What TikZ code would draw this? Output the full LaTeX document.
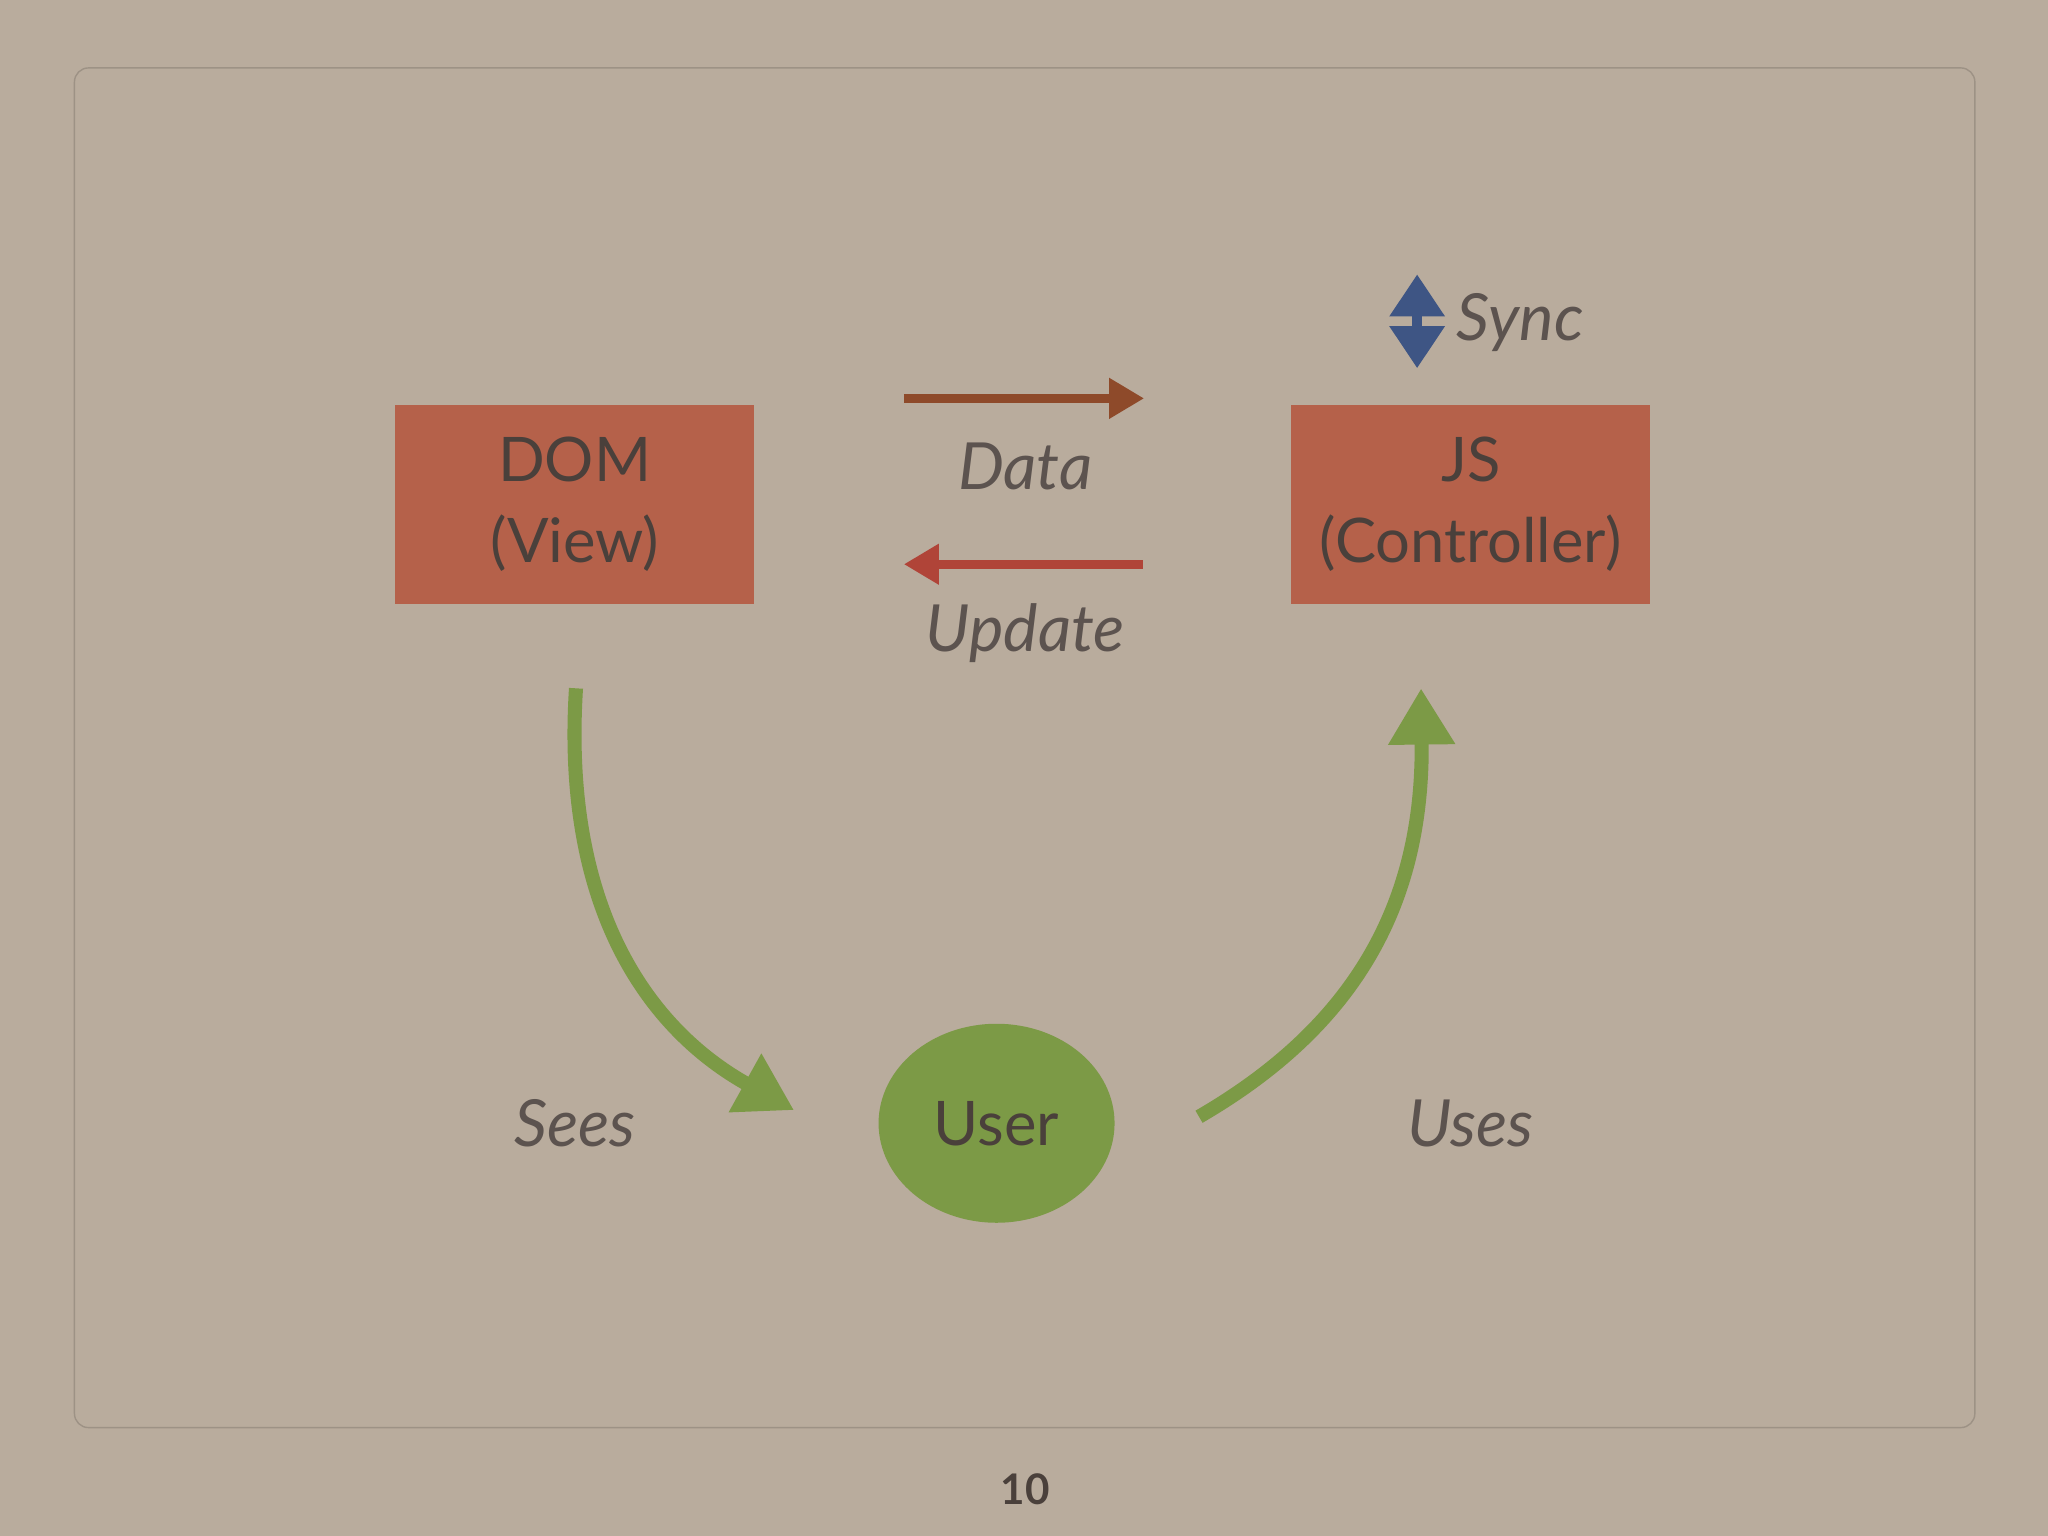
\documentclass[tikz,border=0pt]{standalone}
\usepackage{fontspec}
\setmainfont{Lato}
\usetikzlibrary{arrows.meta,shapes.geometric}
\definecolor{paper}{HTML}{B9AC9D}
\definecolor{brick}{HTML}{B5614A}
\definecolor{ink}{HTML}{4A403B}
\definecolor{leaf}{HTML}{7C9A46}
\definecolor{rust}{HTML}{8E4A2A}
\definecolor{redline}{HTML}{B04438}
\definecolor{navy}{HTML}{3E5584}
\tikzset{
  box/.style={fill=brick, text=ink, minimum width=3.59cm, minimum height=1.99cm, align=center, font=\fontsize{17.5}{23}\selectfont},
  lbl/.style={text=ink!90, font=\fontsize{18.5}{22}\selectfont\itshape},
  loop/.style={leaf, line width=4pt, -{Triangle[length=16pt,width=18pt]}}
}
\begin{document}
\begin{tikzpicture}[x=0.01306cm,y=-0.01306cm]
	
	\fill[paper] (0,0) rectangle (1568,1176);
	\draw[paper!85!black, rounded corners=4pt] (57,52) rectangle (1512,1093);
	
	\node[box] (dom) at (440,386) {DOM\\(View)};
	\node[box] (js) at (1126,386) {JS\\(Controller)};
	\node[ellipse, fill=leaf, text=ink, minimum width=2.36cm, minimum height=1.99cm, font=\fontsize{17.5}{22}\selectfont] (user) at (763,860) {User};
	
	\coordinate (d1) at (692,305);
	\coordinate (d2) at (876,305);
	\coordinate (u1) at (875,432);
	\coordinate (u2) at (692,432);
	\draw[rust, line width=2.5pt, -{Triangle[length=10pt,width=11pt]}] (d1) -- (d2);
	\draw[redline, line width=2.5pt, -{Triangle[length=10pt,width=11pt]}] (u1) -- (u2);
	\node[lbl] (data) at (785,357) {Data};
	\node[lbl] (update) at (785,485) {Update};
	
	\coordinate (s1) at (1085,245);
	\coordinate (s2) at (1085,210);
	\coordinate (s3) at (1085,282);
	\draw[navy, line width=3pt, -{Triangle[length=12pt,width=15pt]}] (s1) -- (s2);
	\draw[navy, line width=3pt, -{Triangle[length=12pt,width=15pt]}] (s1) -- (s3);
	\node[lbl, anchor=west] (sync) at (1106,247) {Sync};
	
	\coordinate (a1) at (441,527);
	\coordinate (a2) at (608,850);
	\coordinate (b1) at (918,855);
	\coordinate (b2) at (1088,527);
	\draw[loop] (a1) .. controls (430,700) and (500,790) .. (a2);
	\draw[loop] (b1) .. controls (1030,790) and (1090,700) .. (b2);
	\node[lbl] (sees) at (440,860) {Sees};
	\node[lbl] (uses) at (1126,860) {Uses};
	
	\node[text=ink, font=\fontsize{12}{14}\selectfont\bfseries] (page) at (785,1140) {10};
	
\end{tikzpicture}
\end{document}
